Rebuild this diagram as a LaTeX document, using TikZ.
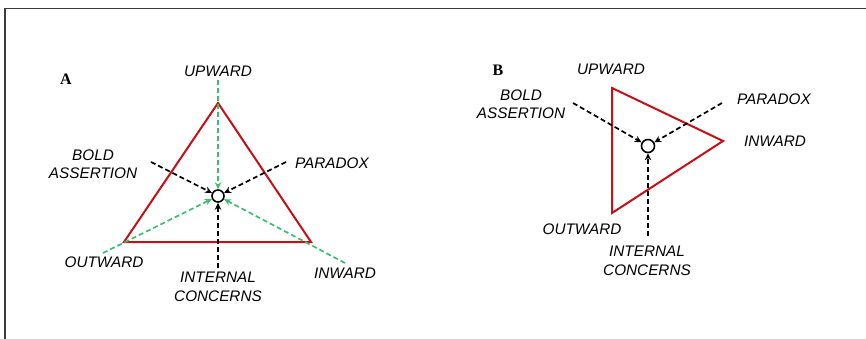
\documentclass[tikz,border=0pt]{standalone}
\usepackage{fontspec}
\setmainfont{Liberation Serif}
\setsansfont{Liberation Sans}
\usetikzlibrary{arrows.meta,calc}
\definecolor{tri}{RGB}{196,16,22}
\definecolor{grn}{RGB}{60,190,110}
\definecolor{frm}{RGB}{60,60,60}
\begin{document}
\begin{tikzpicture}[x=1pt,y=-1pt,
  lab/.style={font=\fontsize{15.3}{18.5}\selectfont\sffamily\itshape,align=center,inner sep=0pt,text=black},
  panel/.style={font=\fontsize{16}{18}\selectfont\bfseries,inner sep=0pt},
  triline/.style={draw=tri,line width=2pt,line join=miter},
  blk/.style={draw=black,line width=1.7pt,dash pattern=on 5pt off 3pt,-{Stealth[length=7pt,width=6.5pt]}},
  gr/.style={draw=grn,line width=1.7pt,dash pattern=on 5pt off 3pt,-{Stealth[length=7pt,width=6.5pt]}},
  hub/.style={circle,draw=black,line width=1.6pt,fill=white,minimum size=12pt,inner sep=0pt}]
\useasboundingbox (0,0) rectangle (866,339);
\draw[frm,line width=1.6pt] (5,339) -- (5,8.5) -- (866,8.5);
% ---------- Panel A ----------
\node[panel] (pA) at (66,79) {A};
\coordinate (At) at (218,103);
\coordinate (Al) at (124,242);
\coordinate (Ar) at (311,242);
\draw[triline] (At) -- (Al) -- (Ar) -- cycle;
\node[hub] (hA) at (218,196) {};
\coordinate (gAu) at (218,80);
\coordinate (gAl) at (103,253);
\coordinate (gAr) at (345,263);
\coordinate (bAl) at (151,162);
\coordinate (bAr) at (286,162);
\coordinate (bAd) at (218,268);
\draw[gr] (gAu) -- (hA);
\draw[gr] (gAl) -- (hA);
\draw[gr] (gAr) -- (hA);
\draw[blk] (bAl) -- (hA);
\draw[blk] (bAr) -- (hA);
\draw[blk] (bAd) -- (hA);
\node[lab] (uA) at (218,71) {UPWARD};
\node[lab] (baA) at (93,164) {BOLD\\ASSERTION};
\node[lab] (pxA) at (332,163) {PARADOX};
\node[lab] (oA) at (104,262) {OUTWARD};
\node[lab] (icA) at (218,287) {INTERNAL\\CONCERNS};
\node[lab] (iA) at (345,273) {INWARD};
% ---------- Panel B ----------
\node[panel] (pB) at (498,70) {B};
\coordinate (Bt) at (612,88);
\coordinate (Br) at (723,141);
\coordinate (Bb) at (612,213);
\draw[triline] (Bt) -- (Br) -- (Bb) -- cycle;
\node[hub,minimum size=13pt] (hB) at (648,146) {};
\coordinate (bBl) at (573,103);
\coordinate (bBr) at (722,103);
\coordinate (bBd) at (648,236);
\draw[blk] (bBl) -- (hB);
\draw[blk] (bBr) -- (hB);
\draw[blk] (bBd) -- (hB);
\node[lab] (uB) at (611,69) {UPWARD};
\node[lab] (baB) at (521,104) {BOLD\\ASSERTION};
\node[lab] (pxB) at (774,99) {PARADOX};
\node[lab] (iB) at (775,141) {INWARD};
\node[lab] (oB) at (582,229) {OUTWARD};
\node[lab] (icB) at (647,261) {INTERNAL\\CONCERNS};
\end{tikzpicture}
\end{document}
